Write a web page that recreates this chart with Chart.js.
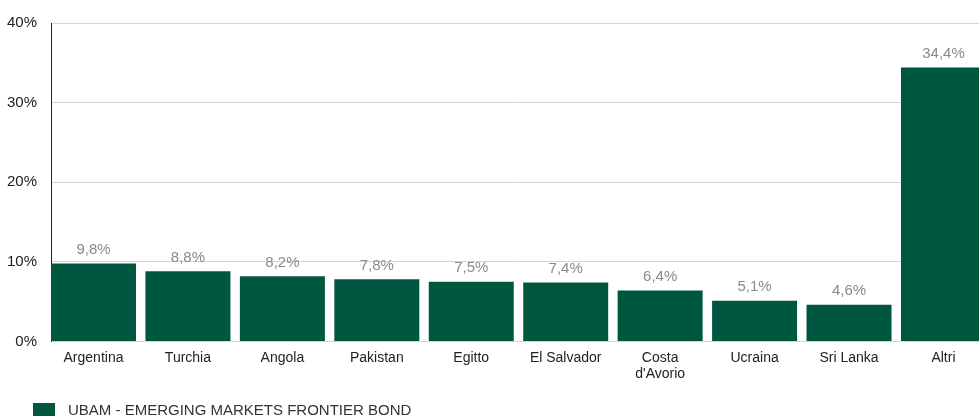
<!DOCTYPE html>
<html>
<head>
<meta charset="utf-8">
<script src="https://cdn.jsdelivr.net/npm/chart.js@4"></script>
<style>
  html, body { margin: 0; padding: 0; background: #fff; overflow: hidden; }
  #wrap { width: 979px; height: 416px; position: relative; }
</style>
</head>
<body>
<div id="wrap"><canvas id="chart"></canvas></div>
<script>
const categories = ['Argentina', 'Turchia', 'Angola', 'Pakistan', 'Egitto', 'El Salvador', ['Costa', "d'Avorio"], 'Ucraina', 'Sri Lanka', 'Altri'];
const values = [9.8, 8.8, 8.2, 7.8, 7.5, 7.4, 6.4, 5.1, 4.6, 34.4];
const seriesName = 'UBAM - EMERGING MARKETS FRONTIER BOND';
const yTicks = [0, 10, 20, 30, 40];

const FONT = "'Liberation Sans', Arial, Helvetica, sans-serif";
const GREEN = '#00573f';

// etichette sopra le barre
const valueLabels = {
    id: 'valueLabels',
    afterDatasetsDraw(chart) {
        const ctx = chart.ctx;
        const meta = chart.getDatasetMeta(0);
        ctx.save();
        ctx.font = '15px ' + FONT;
        ctx.fillStyle = '#8a8a8a';
        ctx.textAlign = 'center';
        ctx.textBaseline = 'bottom';
        meta.data.forEach((bar, i) => {
            const txt = values[i].toFixed(1).replace('.', ',') + '%';
            ctx.fillText(txt, bar.x, bar.y - 6);
        });
        ctx.restore();
    }
};

// legenda in basso a sinistra
const bottomLegend = {
    id: 'bottomLegend',
    afterDraw(chart) {
        const ctx = chart.ctx;
        ctx.save();
        ctx.fillStyle = GREEN;
        ctx.fillRect(33, 403, 22, 14);
        ctx.font = '15px ' + FONT;
        ctx.fillStyle = '#333';
        ctx.textAlign = 'left';
        ctx.textBaseline = 'alphabetic';
        ctx.fillText(seriesName, 68, 415);
        ctx.restore();
    }
};

new Chart(document.getElementById('chart'), {
    type: 'bar',
    data: {
        datasets: [{
            label: seriesName,
            data: values.map((v, i) => ({ x: i, y: v })),
            backgroundColor: GREEN,
            barPercentage: 0.9,
            categoryPercentage: 1.0
        }]
    },
    options: {
        responsive: true,
        maintainAspectRatio: false,
        animation: false,
        layout: { padding: { top: 13, right: 0, left: 0, bottom: 25 } },
        plugins: {
            legend: { display: false },
            tooltip: { enabled: false }
        },
        scales: {
            y: {
                min: 0, max: 40,
                afterBuildTicks: s => { s.ticks = yTicks.map(v => ({ value: v })); },
                afterFit: s => { s.width = 51; },
                border: { display: true, color: '#222', width: 1 },
                grid: { color: '#d4d4d4', drawTicks: false, lineWidth: 1 },
                ticks: {
                    padding: 14, color: '#222',
                    font: { family: FONT, size: 15 },
                    callback: v => v + '%'
                }
            },
            x: {
                type: 'linear',
                offset: false,
                min: -0.45,
                max: -0.45 + 928 / 94.44,
                afterBuildTicks: s => { s.ticks = categories.map((c, i) => ({ value: i })); },
                border: { display: false },
                grid: { display: false, drawTicks: false },
                ticks: {
                    color: '#222', padding: 8, maxRotation: 0, autoSkip: false,
                    font: { family: FONT, size: 14 },
                    callback: v => categories[v]
                }
            }
        }
    },
    plugins: [valueLabels, bottomLegend]
});
</script>
</body>
</html>
